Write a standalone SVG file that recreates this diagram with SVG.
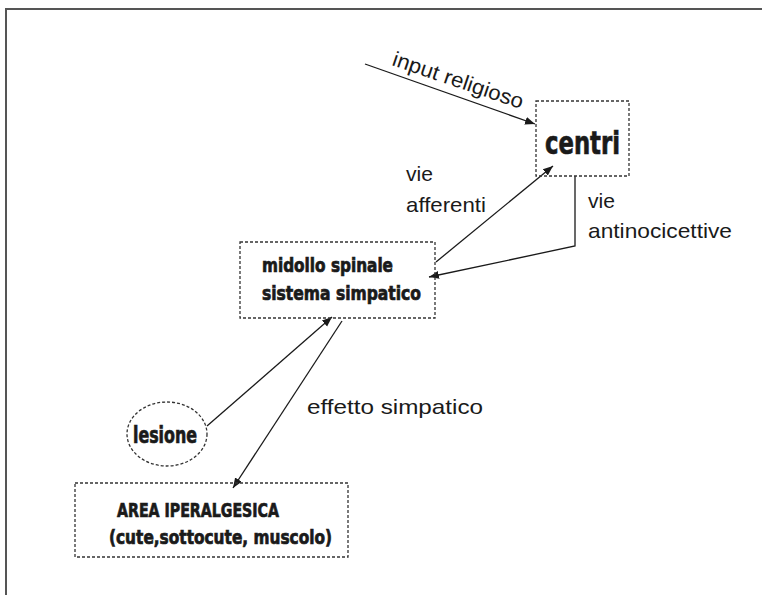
<svg xmlns="http://www.w3.org/2000/svg" width="762" height="595" viewBox="0 0 762 595">
<style>
.frame{fill:none;stroke:#555;stroke-width:2}
.box{fill:none;stroke:#333;stroke-width:1.3;stroke-dasharray:3 2}
.lbl{font-family:"Liberation Sans",Arial,sans-serif;font-size:21px;fill:#1a1a1a}
.bold{font-family:"Liberation Sans Narrow","DejaVu Sans Condensed","Liberation Sans",sans-serif;font-weight:bold;fill:#1a1a1a;stroke:#1a1a1a;stroke-width:0.7}
.conn{fill:none;stroke:#1a1a1a;stroke-width:1.3}
</style>
<defs>
<marker id="ah" viewBox="0 0 10 10" refX="10" refY="5" markerWidth="10" markerHeight="10" markerUnits="userSpaceOnUse" orient="auto">
<path d="M0,1 L10,5 L0,9 Z" fill="#1a1a1a"/>
</marker>
</defs>
<rect width="762" height="595" fill="#fff"/>
<path class="frame" d="M6,595 L6,9 L762,9"/>
<g id="connectors">
<line class="conn" x1="365" y1="64" x2="535" y2="124" marker-end="url(#ah)"/>
<line class="conn" x1="436" y1="262" x2="553" y2="166" marker-end="url(#ah)"/>
<polyline class="conn" points="575,176 575,246 429,277" marker-end="url(#ah)"/>
<line class="conn" x1="207" y1="426" x2="332" y2="317" marker-end="url(#ah)"/>
<line class="conn" x1="342" y1="321" x2="233" y2="488" marker-end="url(#ah)"/>
</g>
<g id="labels">
<text class="lbl" transform="translate(391,65) rotate(18.7)" textLength="137" lengthAdjust="spacingAndGlyphs">input religioso</text>
<text class="lbl" x="406" y="181" textLength="27" lengthAdjust="spacingAndGlyphs">vie</text>
<text class="lbl" x="406" y="212" textLength="80" lengthAdjust="spacingAndGlyphs">afferenti</text>
<text class="lbl" x="588" y="208" textLength="27" lengthAdjust="spacingAndGlyphs">vie</text>
<text class="lbl" x="588" y="238" textLength="144" lengthAdjust="spacingAndGlyphs">antinocicettive</text>
<text class="lbl" x="307" y="414" textLength="176" lengthAdjust="spacingAndGlyphs">effetto simpatico</text>
</g>
<g id="centri">
<rect class="box" x="536" y="101" width="93" height="75"/>
<text class="bold" x="545" y="154" font-size="32" textLength="75" lengthAdjust="spacingAndGlyphs">centri</text>
</g>
<g id="midollo">
<rect class="box" x="240" y="242" width="195" height="76"/>
<text class="bold" x="262" y="272" font-size="20" textLength="131" lengthAdjust="spacingAndGlyphs">midollo spinale</text>
<text class="bold" x="262" y="300" font-size="20" textLength="159" lengthAdjust="spacingAndGlyphs">sistema simpatico</text>
</g>
<g id="lesione">
<ellipse class="box" cx="167" cy="434" rx="40" ry="32"/>
<text class="bold" x="133" y="443" font-size="23" textLength="64" lengthAdjust="spacingAndGlyphs">lesione</text>
</g>
<g id="area">
<rect class="box" x="75" y="483" width="273" height="74"/>
<text class="bold" x="117" y="517" font-size="20" textLength="162" lengthAdjust="spacingAndGlyphs">AREA IPERALGESICA</text>
<text class="bold" x="109" y="544" font-size="20" textLength="223" lengthAdjust="spacingAndGlyphs">(cute,sottocute, muscolo)</text>
</g>
</svg>
